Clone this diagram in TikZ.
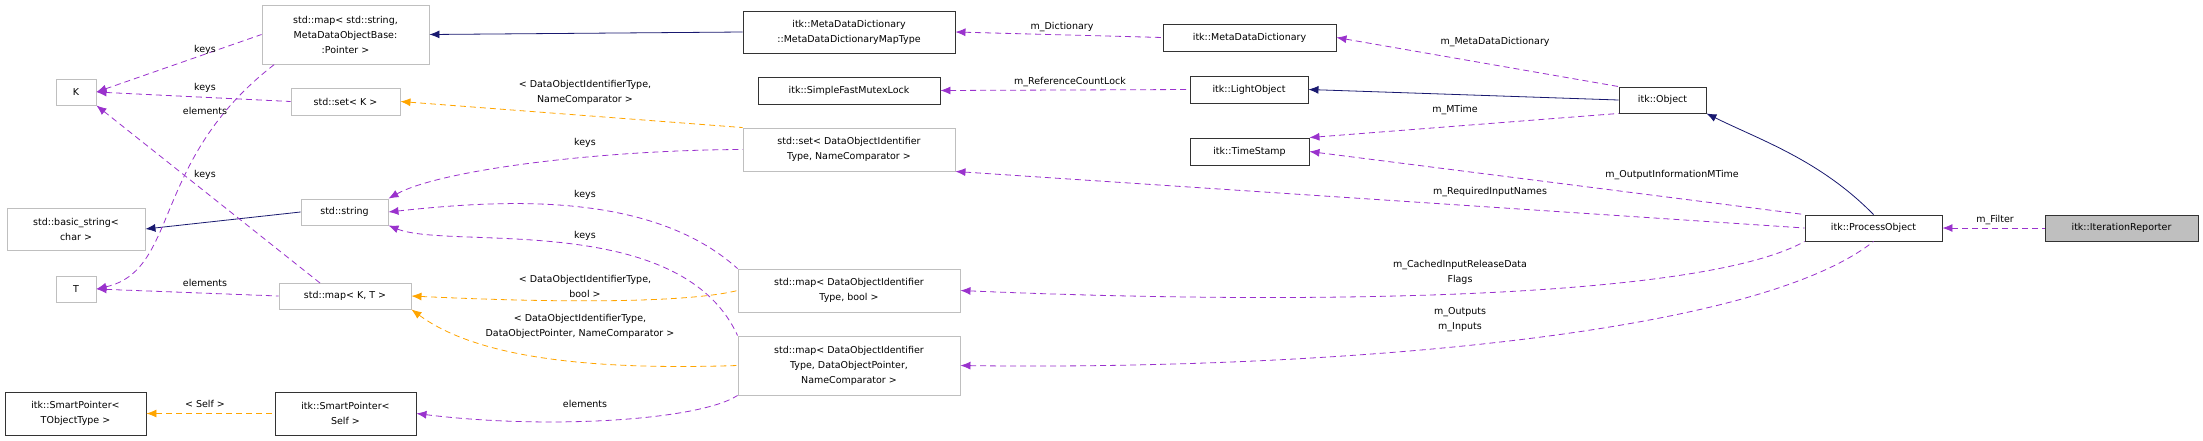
\documentclass[tikz,border=0pt]{standalone}
\usepackage{fontspec}
\setmainfont{DejaVu Sans}
\usetikzlibrary{arrows.meta}
\definecolor{purp}{HTML}{9A32CD}
\definecolor{orng}{HTML}{FFA500}
\definecolor{navy}{HTML}{191970}
\begin{document}
\begin{tikzpicture}[x=1pt,y=-1pt,
  box/.style={draw=black!80,line width=0.9pt,fill=white,inner sep=0pt,align=center,font=\fontsize{9.5}{15}\selectfont},
  gbox/.style={box,draw=black!25},
  lbl/.style={inner sep=0pt,align=center,font=\fontsize{9.5}{15}\selectfont},
  tip/.style={{Latex[length=10pt,width=8pt]}-},
  pedge/.style={draw=purp,line width=0.8pt,dash pattern=on 6pt off 4pt,tip},
  oedge/.style={draw=orng,line width=0.8pt,dash pattern=on 6pt off 4pt,tip},
  bedge/.style={draw=navy,line width=0.8pt,tip}]
\useasboundingbox (0,0) rectangle (2203,440);
\fill[white] (0,0) rectangle (2203,440);
% nodes
\node[gbox,minimum width=167,minimum height=59] (mapstr) at (345.5,34.5) {std::map\textless{} std::string,\\MetaDataObjectBase:\\:Pointer \textgreater};
\node[gbox,minimum width=40,minimum height=26] (K) at (76,92) {K};
\node[gbox,minimum width=109,minimum height=27] (setK) at (345.5,101.5) {std::set\textless{} K \textgreater};
\node[gbox,minimum width=138,minimum height=42] (bstr) at (76,229) {std::basic\_string\textless\\char \textgreater};
\node[gbox,minimum width=87,minimum height=26] (str) at (344.5,212) {std::string};
\node[gbox,minimum width=40,minimum height=26] (T) at (76,289) {T};
\node[gbox,minimum width=132,minimum height=26] (mapKT) at (345,296) {std::map\textless{} K, T \textgreater};
\node[box,minimum width=141,minimum height=43] (spT) at (75.5,413.5) {itk::SmartPointer\textless\\TObjectType \textgreater};
\node[box,minimum width=141,minimum height=43] (spS) at (345.5,413.5) {itk::SmartPointer\textless\\Self \textgreater};
\node[box,minimum width=212,minimum height=42] (mapT) at (849,32) {itk::MetaDataDictionary\\::MetaDataDictionaryMapType};
\node[box,minimum width=173,minimum height=27] (mdd) at (1249.5,37.5) {itk::MetaDataDictionary};
\node[box,minimum width=182,minimum height=27] (sfml) at (849,90.5) {itk::SimpleFastMutexLock};
\node[box,minimum width=118,minimum height=27] (lo) at (1249,89.5) {itk::LightObject};
\node[gbox,minimum width=212,minimum height=43] (setD) at (849,149.5) {std::set\textless{} DataObjectIdentifier\\Type, NameComparator \textgreater};
\node[box,minimum width=119,minimum height=27] (ts) at (1249.5,151.5) {itk::TimeStamp};
\node[gbox,minimum width=222,minimum height=43] (mapB) at (849,290.5) {std::map\textless{} DataObjectIdentifier\\Type, bool \textgreater};
\node[gbox,minimum width=222,minimum height=59] (mapP) at (849,365.5) {std::map\textless{} DataObjectIdentifier\\Type, DataObjectPointer,\\NameComparator \textgreater};
\node[box,minimum width=87,minimum height=26] (obj) at (1662.5,100) {itk::Object};
\node[box,minimum width=137,minimum height=26] (po) at (1873.5,228) {itk::ProcessObject};
\node[box,fill=black!25,minimum width=153,minimum height=26] (ir) at (2121.5,228) {itk::IterationReporter};
% inheritance
\draw[bedge] (mapstr.east) -- (mapT.west);
\draw[bedge] (bstr.east) -- (str.west);
\draw[bedge] (lo.east) -- (obj.west);
\draw[bedge] (obj.south east) .. controls (1760,140) and (1820,160) .. (po.north);
% purple
\draw[pedge] (K.east) -- (mapstr.west);
\node[lbl] (l1) at (205,50) {keys};
\draw[pedge] (K.east) -- (setK.west);
\node[lbl] (l2) at (205,88) {keys};
\draw[pedge] (T.east) .. controls (180,270) and (150,160) .. (275,64);
\node[lbl] (l3) at (205,111) {elements};
\draw[pedge] (K.south east) -- (320,283);
\node[lbl] (l4) at (205,175) {keys};
\draw[pedge] (T.east) -- (mapKT.west);
\node[lbl] (l5) at (205,283) {elements};
\draw[pedge] (str.north east) .. controls (440,170) and (600,150) .. (setD.west);
\node[lbl] (l6) at (585,143) {keys};
\draw[pedge] (str.east) .. controls (500,200) and (650,190) .. (mapB.north west);
\node[lbl] (l7) at (585,195) {keys};
\draw[pedge] (str.south east) .. controls (450,250) and (680,210) .. (mapP.north west);
\node[lbl] (l8) at (585,236) {keys};
\draw[pedge] (spS.east) .. controls (550,430) and (700,420) .. (mapP.south west);
\node[lbl] (l9) at (585,404) {elements};
\draw[pedge] (mapT.east) -- (mdd.west);
\node[lbl] (l10) at (1062,27) {m\_Dictionary};
\draw[pedge] (sfml.east) -- (lo.west);
\node[lbl] (l11) at (1070,82) {m\_ReferenceCountLock};
\draw[pedge] (mdd.east) -- (obj.north west);
\node[lbl] (l12) at (1495,42) {m\_MetaDataDictionary};
\draw[pedge] (ts.north east) -- (obj.south west);
\node[lbl] (l13) at (1455,110) {m\_MTime};
\draw[pedge] (ts.east) -- (po.north west);
\node[lbl] (l14) at (1672,175) {m\_OutputInformationMTime};
\draw[pedge] (setD.south east) -- (po.west);
\node[lbl] (l15) at (1490,192) {m\_RequiredInputNames};
\draw[pedge] (mapB.east) .. controls (1300,305) and (1700,300) .. (po.south west);
\node[lbl] (l16) at (1460,272) {m\_CachedInputReleaseData\\Flags};
\draw[pedge] (mapP.east) .. controls (1300,370) and (1750,340) .. (po.south);
\node[lbl] (l17) at (1460,320) {m\_Outputs\\m\_Inputs};
\draw[pedge] (po.east) -- (ir.west);
\node[lbl] (l18) at (1995,220) {m\_Filter};
% orange
\draw[oedge] (setK.east) -- (setD.north west);
\node[lbl] (l19) at (585,92) {\textless{} DataObjectIdentifierType,\\NameComparator \textgreater};
\draw[oedge] (mapKT.east) .. controls (600,305) and (700,300) .. (mapB.west);
\node[lbl] (l20) at (585,286) {\textless{} DataObjectIdentifierType,\\bool \textgreater};
\draw[oedge] (mapKT.south east) .. controls (480,360) and (600,370) .. (mapP.west);
\node[lbl] (l21) at (580,326) {\textless{} DataObjectIdentifierType,\\DataObjectPointer, NameComparator \textgreater};
\draw[oedge] (spT.east) -- (spS.west);
\node[lbl] (l22) at (205,404) {\textless{} Self \textgreater};
\end{tikzpicture}
\end{document}
